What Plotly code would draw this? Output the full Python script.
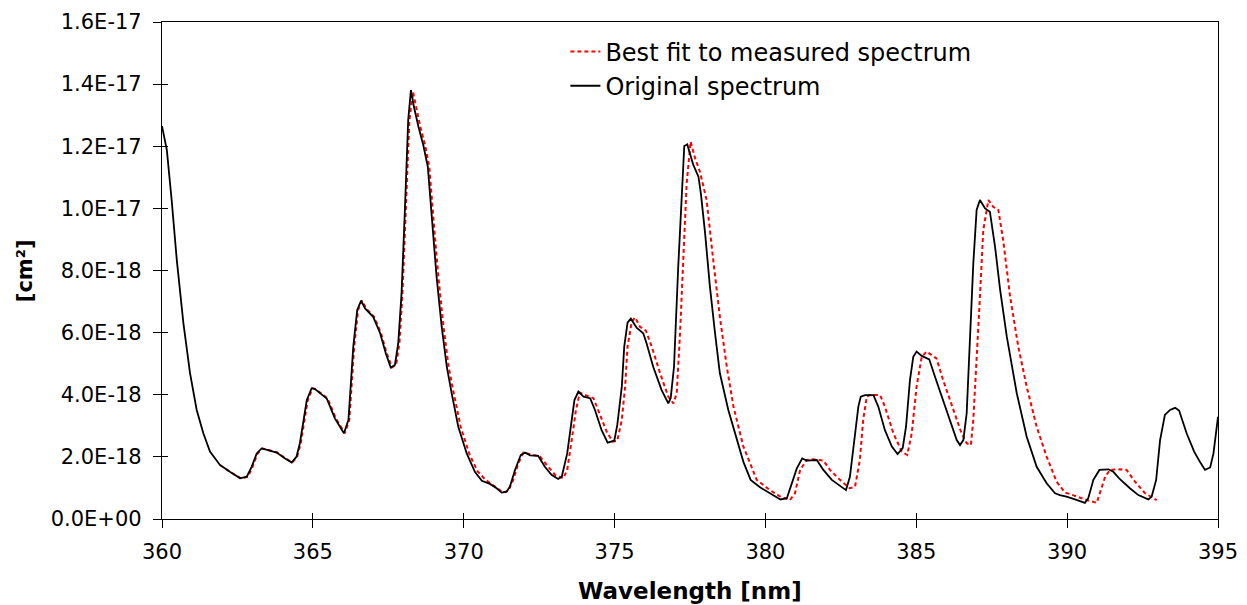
import plotly.graph_objects as go

# ---- data (y in units of 1e-18 cm^2) ----
orig_wl = [360.00, 360.16, 360.32, 360.49, 360.71, 360.93, 361.15, 361.37, 361.59, 361.92,
           362.25, 362.59, 362.81, 362.97, 363.14, 363.30, 363.52, 363.80, 364.08, 364.30,
           364.46, 364.57, 364.80, 364.96, 365.07, 365.24, 365.46, 365.73, 366.03, 366.18,
           366.34, 366.47, 366.60, 366.73, 367.00, 367.23, 367.42, 367.58, 367.72, 367.83,
           367.94, 368.05, 368.16, 368.25, 368.35, 368.50, 368.66, 368.81, 368.94, 369.10,
           369.27, 369.44, 369.60, 369.82, 370.10, 370.37, 370.60, 370.87, 371.09, 371.26,
           371.42, 371.53, 371.70, 371.89, 372.03, 372.20, 372.47, 372.69, 372.91, 373.13,
           373.25, 373.43, 373.55, 373.67, 373.80, 373.97, 374.19, 374.35, 374.57, 374.77,
           374.99, 375.09, 375.24, 375.32, 375.43, 375.54, 375.73, 375.95, 376.06, 376.28,
           376.56, 376.78, 376.86, 376.97, 377.11, 377.23, 377.31, 377.41, 377.61, 377.78,
           377.86, 378.00, 378.16, 378.33, 378.49, 378.77, 379.05, 379.27, 379.51, 379.82,
           380.15, 380.50, 380.71, 380.87, 381.04, 381.22, 381.37, 381.70, 381.92, 382.20,
           382.47, 382.67, 382.80, 382.97, 383.08, 383.16, 383.30, 383.58, 383.74, 383.96,
           384.19, 384.38, 384.55, 384.66, 384.79, 384.90, 385.01, 385.18, 385.43, 385.62,
           385.84, 386.12, 386.34, 386.45, 386.56, 386.67, 386.78, 386.89, 387.00, 387.11,
           387.28, 387.44, 387.61, 387.78, 388.00, 388.33, 388.66, 388.99, 389.32, 389.60,
           389.76, 389.98, 390.26, 390.59, 390.70, 390.87, 391.07, 391.37, 391.53, 391.75,
           392.08, 392.36, 392.69, 392.80, 392.95, 393.08, 393.24, 393.41, 393.58, 393.71,
           393.96, 394.21, 394.40, 394.57, 394.74, 394.85, 395.00]
orig_val = [12.65, 11.88, 10.27, 8.34, 6.30, 4.69, 3.51, 2.76, 2.17, 1.74,
            1.52, 1.31, 1.36, 1.68, 2.11, 2.27, 2.22, 2.14, 1.95, 1.82,
            2.01, 2.44, 3.83, 4.21, 4.18, 4.05, 3.88, 3.24, 2.76, 3.19,
            5.55, 6.73, 7.03, 6.78, 6.51, 5.98, 5.33, 4.88, 4.96, 5.66,
            7.27, 9.95, 12.84, 13.81, 13.27, 12.63, 12.04, 11.34, 9.62, 7.80,
            6.19, 4.90, 4.05, 2.97, 2.11, 1.52, 1.23, 1.13, 0.99, 0.85,
            0.88, 1.04, 1.58, 2.06, 2.14, 2.05, 2.03, 1.68, 1.42, 1.29,
            1.36, 2.11, 2.97, 3.83, 4.10, 3.94, 3.89, 3.51, 2.86, 2.46,
            2.52, 3.03, 4.26, 5.55, 6.32, 6.45, 6.16, 5.98, 5.66, 4.90,
            4.15, 3.72, 3.89, 4.90, 8.12, 10.37, 12.01, 12.06, 11.40, 11.02,
            10.48, 9.20, 7.48, 5.98, 4.69, 3.51, 2.54, 1.84, 1.26, 1.02,
            0.83, 0.63, 0.67, 1.15, 1.63, 1.95, 1.88, 1.90, 1.58, 1.26,
            1.06, 0.93, 1.36, 2.86, 3.62, 3.94, 3.99, 3.99, 3.62, 2.86,
            2.33, 2.09, 2.28, 2.97, 4.47, 5.22, 5.39, 5.25, 5.14, 4.58,
            3.94, 3.19, 2.54, 2.38, 2.54, 3.40, 6.08, 8.23, 9.95, 10.27,
            10.00, 9.89, 8.77, 7.37, 5.87, 4.05, 2.65, 1.68, 1.15, 0.83,
            0.77, 0.72, 0.63, 0.52, 0.67, 1.26, 1.58, 1.60, 1.52, 1.28,
            0.99, 0.77, 0.63, 0.72, 1.26, 2.54, 3.35, 3.51, 3.58, 3.49,
            2.76, 2.17, 1.84, 1.58, 1.66, 2.11, 3.29]

fit_wl = [361.92, 362.25, 362.62, 362.85, 363.00, 363.17, 363.33, 363.55, 363.82, 364.10,
          364.32, 364.48, 364.60, 364.83, 364.99, 365.10, 365.27, 365.49, 365.76, 366.06,
          366.21, 366.37, 366.50, 366.63, 366.76, 367.03, 367.26, 367.45, 367.62, 367.76,
          367.87, 367.97, 368.08, 368.20, 368.32, 368.42, 368.56, 368.72, 368.86, 369.00,
          369.16, 369.33, 369.50, 369.67, 369.90, 370.18, 370.45, 370.70, 370.90, 371.10,
          371.31, 371.48, 371.64, 371.81, 371.98, 372.14, 372.53, 372.75, 373.03, 373.30,
          373.43, 373.58, 373.72, 373.85, 374.02, 374.30, 374.52, 374.74, 374.94, 375.09,
          375.24, 375.35, 375.43, 375.57, 375.68, 375.84, 376.04, 376.23, 376.51, 376.78,
          376.95, 377.06, 377.17, 377.28, 377.39, 377.52, 377.67, 377.83, 378.05, 378.27,
          378.49, 378.72, 378.94, 379.27, 379.71, 380.15, 380.48, 380.81, 380.98, 381.15,
          381.37, 381.59, 381.92, 382.14, 382.47, 382.80, 382.97, 383.13, 383.24, 383.36,
          383.47, 383.80, 383.96, 384.24, 384.52, 384.70, 384.85, 385.01, 385.18, 385.34,
          385.67, 385.89, 386.22, 386.50, 386.67, 386.81, 386.89, 387.00, 387.11, 387.22,
          387.39, 387.55, 387.72, 387.88, 388.11, 388.38, 388.66, 388.99, 389.32, 389.65,
          389.93, 390.10, 390.32, 390.65, 390.98, 391.09, 391.26, 391.42, 391.75, 391.97,
          392.25, 392.58, 392.97]
fit_val = [1.74, 1.52, 1.31, 1.36, 1.68, 2.11, 2.27, 2.22, 2.14, 1.95,
           1.82, 2.01, 2.44, 3.83, 4.21, 4.18, 4.05, 3.88, 3.24, 2.76,
           3.19, 5.55, 6.73, 7.03, 6.78, 6.51, 5.98, 5.33, 4.88, 4.96,
           5.66, 7.27, 9.95, 12.84, 13.75, 13.27, 12.63, 12.04, 11.34, 9.62,
           7.80, 6.19, 4.90, 4.05, 2.97, 2.11, 1.55, 1.28, 1.15, 1.00,
           0.85, 0.91, 1.26, 1.79, 2.14, 2.10, 2.01, 1.74, 1.42, 1.31,
           1.58, 2.54, 3.51, 4.07, 3.99, 3.89, 3.35, 2.81, 2.49, 2.52,
           3.19, 4.26, 5.55, 6.35, 6.49, 6.19, 6.06, 5.55, 4.69, 3.94,
           3.72, 4.05, 5.98, 8.66, 10.81, 12.15, 11.61, 11.18, 10.27, 8.34,
           6.51, 4.90, 3.62, 2.33, 1.26, 0.93, 0.73, 0.61, 0.83, 1.58,
           1.90, 1.92, 1.88, 1.58, 1.26, 0.99, 1.04, 1.90, 3.19, 3.94,
           3.99, 3.99, 3.62, 2.76, 2.17, 2.06, 2.76, 4.26, 5.22, 5.39,
           5.17, 4.47, 3.51, 2.76, 2.44, 2.38, 3.19, 5.01, 7.16, 9.30,
           10.27, 10.05, 9.95, 8.98, 7.16, 5.55, 4.26, 2.97, 2.01, 1.20,
           0.85, 0.80, 0.72, 0.61, 0.52, 0.83, 1.36, 1.58, 1.60, 1.58,
           1.20, 0.83, 0.61]

UNIT = 1e-18
x_ticks = [360, 365, 370, 375, 380, 385, 390, 395]
y_ticks = [0, 2e-18, 4e-18, 6e-18, 8e-18, 1.0e-17, 1.2e-17, 1.4e-17, 1.6e-17]
y_ticktext = ["%.1E" % v for v in y_ticks]
x_title = "Wavelength [nm]"
y_title = "[cm²]"

fig = go.Figure()
fig.add_trace(go.Scatter(
    x=fit_wl, y=[v * UNIT for v in fit_val], mode="lines",
    name="Best fit to measured spectrum",
    line=dict(color="#ff0000", width=2, dash="4px,3px")))
fig.add_trace(go.Scatter(
    x=orig_wl, y=[v * UNIT for v in orig_val], mode="lines",
    name="Original spectrum",
    line=dict(color="#000000", width=1.8)))
# helper (empty) trace for inner halves of the crossing tick marks
fig.add_trace(go.Scatter(x=[], y=[], xaxis="x2", yaxis="y2", showlegend=False,
                         hoverinfo="skip"))

tick_font_x = dict(family="DejaVu Sans", size=21, color="#000")
tick_font_y = dict(family="DejaVu Sans", size=21, color="#000")
title_font = dict(family="DejaVu Sans", size=23, weight="bold", color="#000")

fig.update_layout(
    width=1247, height=605,
    margin=dict(l=162, r=29, t=22, b=86),
    paper_bgcolor="white", plot_bgcolor="white",
    showlegend=True,
    legend=dict(x=0.382, y=0.985, xanchor="left", yanchor="top",
                bgcolor="rgba(0,0,0,0)",
                font=dict(family="DejaVu Sans", size=24, color="#000")),
    xaxis=dict(range=[360, 395], tickvals=x_ticks, ticks="outside", ticklen=8,
               tickwidth=1, tickcolor="#000", showline=True, linecolor="#000",
               linewidth=1.2, mirror=True, showgrid=False, zeroline=False,
               tickfont=tick_font_x, ticklabelstandoff=6, automargin=False),
    yaxis=dict(range=[0, 1.6e-17], tickvals=y_ticks, ticktext=y_ticktext,
               ticks="outside", ticklen=8, tickwidth=1, tickcolor="#000",
               showline=True, linecolor="#000", linewidth=1.2, mirror=True,
               showgrid=False, zeroline=False, tickfont=tick_font_y,
               ticklabelstandoff=7, automargin=False),
    xaxis2=dict(overlaying="x", anchor="y2", range=[360, 395], tickvals=x_ticks,
                ticks="inside", ticklen=6, tickwidth=1, tickcolor="#000",
                showticklabels=False, showline=False, showgrid=False, zeroline=False),
    yaxis2=dict(overlaying="y", anchor="x2", range=[0, 1.6e-17], tickvals=y_ticks,
                ticks="inside", ticklen=6, tickwidth=1, tickcolor="#000",
                showticklabels=False, showline=False, showgrid=False, zeroline=False),
    annotations=[
        dict(text=x_title, xref="paper", yref="paper", x=0.5, y=-0.145,
             xanchor="center", yanchor="middle", showarrow=False, font=title_font),
        dict(text=y_title, xref="paper", yref="paper", x=-0.130, y=0.5,
             xanchor="center", yanchor="middle", showarrow=False, textangle=-90,
             font=dict(family="DejaVu Sans", size=21, weight="bold", color="#000")),
    ],
)

fig.write_html("out.html")
